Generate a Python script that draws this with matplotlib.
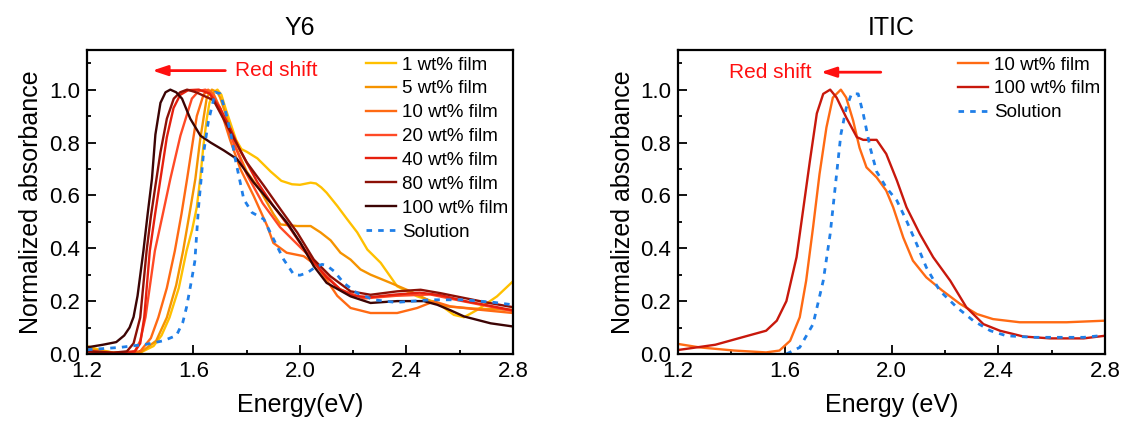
import matplotlib
matplotlib.use('Agg')
import matplotlib.pyplot as plt
from matplotlib.ticker import MultipleLocator

plt.rcParams['font.family'] = ['Liberation Sans', 'DejaVu Sans']

# ---- Y6 data (energy in eV, normalized absorbance) ----
y6_labels = ['1 wt% film', '5 wt% film', '10 wt% film', '20 wt% film',
             '40 wt% film', '80 wt% film', '100 wt% film']
y6_colors = ['#ffc000', '#f59300', '#ff6a13', '#ff4a26', '#e6200e', '#8c1006', '#3c0404']

e_1 = [1.20, 1.25, 1.30, 1.40, 1.45, 1.48, 1.51, 1.545, 1.574, 1.595, 1.6125, 1.626, 1.6375,
       1.65, 1.66, 1.675, 1.69, 1.705, 1.72, 1.74, 1.76, 1.78, 1.80, 1.84, 1.89, 1.93, 1.97,
       2.00, 2.04, 2.06, 2.08, 2.10, 2.14, 2.177, 2.215, 2.253, 2.303, 2.365, 2.44, 2.516,
       2.578, 2.616, 2.666, 2.74, 2.80]
a_1 = [0.03, 0.015, 0.005, 0.005, 0.03, 0.07, 0.138, 0.25, 0.39, 0.47, 0.555, 0.67, 0.79,
       0.89, 0.95, 0.99, 1.0, 0.98, 0.93, 0.87, 0.81, 0.775, 0.765, 0.74, 0.69, 0.655, 0.642,
       0.64, 0.648, 0.645, 0.63, 0.61, 0.56, 0.51, 0.46, 0.395, 0.345, 0.256, 0.218, 0.193,
       0.148, 0.139, 0.167, 0.218, 0.275]

e_5 = [1.20, 1.30, 1.40, 1.46, 1.50, 1.535, 1.561, 1.585, 1.607, 1.625, 1.65, 1.669, 1.69,
       1.70, 1.725, 1.76, 1.80, 1.85, 1.90, 1.927, 1.99, 2.04, 2.077, 2.115, 2.152, 2.19,
       2.227, 2.265, 2.34, 2.415, 2.49, 2.55, 2.65, 2.80]
a_5 = [0.02, 0.005, 0.005, 0.05, 0.138, 0.26, 0.39, 0.53, 0.662, 0.81, 0.97, 1.0, 0.99,
       0.97, 0.895, 0.78, 0.69, 0.62, 0.53, 0.49, 0.484, 0.484, 0.46, 0.43, 0.383, 0.357,
       0.32, 0.30, 0.269, 0.237, 0.20, 0.18, 0.172, 0.167]

e_10 = [1.20, 1.30, 1.40, 1.44, 1.468, 1.50, 1.53, 1.555, 1.576, 1.60, 1.6125, 1.6375, 1.655,
        1.675, 1.70, 1.7375, 1.776, 1.826, 1.877, 1.90, 1.95, 2.014, 2.065, 2.10, 2.14, 2.19,
        2.265, 2.365, 2.44, 2.503, 2.565, 2.678, 2.80]
a_10 = [0.015, 0.003, 0.01, 0.06, 0.138, 0.25, 0.39, 0.53, 0.662, 0.82, 0.90, 0.98, 1.0,
        0.985, 0.93, 0.81, 0.70, 0.598, 0.484, 0.42, 0.383, 0.37, 0.332, 0.28, 0.22, 0.174,
        0.155, 0.155, 0.174, 0.199, 0.18, 0.167, 0.155]

e_20 = [1.20, 1.35, 1.38, 1.40, 1.42, 1.455, 1.485, 1.513, 1.551, 1.594, 1.62, 1.645, 1.67,
        1.70, 1.75, 1.80, 1.86, 1.925, 1.975, 2.025, 2.075, 2.15, 2.24, 2.36, 2.49, 2.61, 2.80]
a_20 = [0.01, 0.002, 0.01, 0.05, 0.14, 0.39, 0.53, 0.662, 0.826, 0.966, 0.995, 1.0, 0.98,
        0.93, 0.80, 0.68, 0.57, 0.48, 0.43, 0.38, 0.32, 0.245, 0.21, 0.22, 0.225, 0.20, 0.162]

e_40 = [1.20, 1.30, 1.38, 1.40, 1.415, 1.436, 1.456, 1.476, 1.50, 1.525, 1.55, 1.58, 1.62,
        1.66, 1.70, 1.74, 1.775, 1.84, 1.90, 1.96, 2.00, 2.05, 2.10, 2.15, 2.20, 2.265, 2.36,
        2.45, 2.53, 2.62, 2.70, 2.80]
a_40 = [0.01, 0.003, 0.01, 0.04, 0.138, 0.39, 0.53, 0.662, 0.82, 0.93, 0.98, 0.998, 1.0,
        0.985, 0.93, 0.85, 0.77, 0.65, 0.56, 0.48, 0.42, 0.35, 0.29, 0.245, 0.22, 0.215, 0.225,
        0.232, 0.222, 0.20, 0.185, 0.165]

e_80 = [1.20, 1.30, 1.35, 1.375, 1.40, 1.424, 1.44, 1.457, 1.476, 1.50, 1.526, 1.55, 1.576,
        1.61, 1.675, 1.739, 1.80, 1.864, 1.927, 1.99, 2.052, 2.114, 2.165, 2.19, 2.265, 2.365,
        2.453, 2.528, 2.616, 2.70, 2.80]
a_80 = [0.01, 0.005, 0.01, 0.04, 0.138, 0.39, 0.52, 0.636, 0.763, 0.89, 0.966, 0.99, 1.0,
        0.99, 0.96, 0.84, 0.725, 0.637, 0.547, 0.459, 0.357, 0.294, 0.256, 0.237, 0.224, 0.237,
        0.243, 0.23, 0.212, 0.195, 0.177]

e_100 = [1.20, 1.26, 1.31, 1.34, 1.36, 1.375, 1.39, 1.412, 1.428, 1.444, 1.457, 1.476, 1.495,
         1.513, 1.535, 1.557, 1.588, 1.626, 1.664, 1.714, 1.764, 1.826, 1.889, 1.951, 2.002,
         2.052, 2.10, 2.19, 2.265, 2.365, 2.465, 2.516, 2.566, 2.616, 2.716, 2.80]
a_100 = [0.025, 0.035, 0.045, 0.07, 0.10, 0.14, 0.22, 0.39, 0.53, 0.662, 0.83, 0.95, 0.99,
         1.0, 0.99, 0.966, 0.89, 0.826, 0.80, 0.77, 0.737, 0.649, 0.573, 0.497, 0.42, 0.332,
         0.269, 0.218, 0.193, 0.20, 0.20, 0.186, 0.165, 0.142, 0.116, 0.104]

e_sol = [1.20, 1.325, 1.424, 1.487, 1.536, 1.56, 1.574, 1.593, 1.605, 1.619, 1.6375, 1.656,
         1.682, 1.70, 1.72, 1.739, 1.757, 1.789, 1.82, 1.864, 1.895, 1.939, 1.977, 2.0, 2.027,
         2.06, 2.083, 2.10, 2.128, 2.165, 2.215, 2.278, 2.36, 2.49, 2.616, 2.73, 2.80]
a_sol = [0.016, 0.025, 0.037, 0.05, 0.07, 0.12, 0.177, 0.28, 0.35, 0.555, 0.757, 0.88,
         0.99, 0.985, 0.92, 0.84, 0.737, 0.585, 0.535, 0.51, 0.446, 0.357, 0.30, 0.298, 0.307,
         0.33, 0.339, 0.335, 0.313, 0.268, 0.23, 0.205, 0.195, 0.205, 0.205, 0.195, 0.186]

y6_e = [e_1, e_5, e_10, e_20, e_40, e_80, e_100]
y6_a = [a_1, a_5, a_10, a_20, a_40, a_80, a_100]

# ---- ITIC data ----
itic_e_10 = [1.20, 1.28, 1.41, 1.53, 1.58, 1.62, 1.656, 1.68, 1.706, 1.73, 1.756, 1.78, 1.81,
             1.83, 1.856, 1.88, 1.906, 1.944, 1.98, 2.006, 2.044, 2.08, 2.13, 2.19, 2.256, 2.32,
             2.38, 2.48, 2.656, 2.80]
itic_a_10 = [0.038, 0.025, 0.013, 0.006, 0.013, 0.05, 0.139, 0.277, 0.48, 0.68, 0.857, 0.97,
             1.0, 0.97, 0.883, 0.78, 0.706, 0.668, 0.618, 0.555, 0.44, 0.353, 0.29, 0.24, 0.19,
             0.151, 0.132, 0.12, 0.12, 0.126]

itic_e_100 = [1.20, 1.34, 1.44, 1.53, 1.57, 1.606, 1.644, 1.67, 1.694, 1.72, 1.744, 1.77,
              1.794, 1.83, 1.87, 1.894, 1.944, 1.98, 2.02, 2.056, 2.106, 2.156, 2.22, 2.28,
              2.344, 2.406, 2.494, 2.594, 2.72, 2.80]
itic_a_100 = [0.015, 0.035, 0.063, 0.088, 0.126, 0.20, 0.366, 0.555, 0.73, 0.91, 0.984, 1.0,
              0.97, 0.895, 0.82, 0.81, 0.81, 0.757, 0.656, 0.555, 0.454, 0.366, 0.277, 0.177,
              0.113, 0.088, 0.066, 0.059, 0.059, 0.069]

itic_e_sol = [1.606, 1.656, 1.706, 1.744, 1.77, 1.794, 1.81, 1.83, 1.85, 1.875, 1.894, 1.92,
              1.944, 1.98, 2.02, 2.056, 2.094, 2.13, 2.18, 2.244, 2.306, 2.37, 2.43, 2.53, 2.72,
              2.78]
itic_a_sol = [0.0, 0.025, 0.113, 0.277, 0.454, 0.68, 0.83, 0.93, 0.984, 0.984, 0.908, 0.78,
              0.69, 0.63, 0.58, 0.504, 0.416, 0.328, 0.24, 0.177, 0.126, 0.088, 0.069, 0.063,
              0.063, 0.069]

sol_color = '#1f7fe8'
red = '#ff1010'


def style_axes(ax, title):
    ax.set_xlim(1.2, 2.8)
    ax.set_ylim(0, 1.15)
    ax.xaxis.set_major_locator(MultipleLocator(0.4))
    ax.xaxis.set_minor_locator(MultipleLocator(0.2))
    ax.yaxis.set_major_locator(MultipleLocator(0.2))
    ax.yaxis.set_minor_locator(MultipleLocator(0.1))
    ax.tick_params(which='both', direction='in', top=False, right=False,
                   labelsize=16, width=1.3, pad=5)
    ax.tick_params(which='major', length=6.5)
    ax.tick_params(which='minor', length=3)
    for s in ax.spines.values():
        s.set_linewidth(1.6)
    ax.set_ylabel('Normalized absorbance', fontsize=18, labelpad=4)
    ax.set_title(title, fontsize=18, pad=11)


fig = plt.figure(figsize=(11.25, 4.32), dpi=100)
ax1 = fig.add_axes([0.0773, 0.1806, 0.3787, 0.7037])
ax2 = fig.add_axes([0.6027, 0.1806, 0.3796, 0.7037])

leg_kw = dict(loc='upper right', bbox_to_anchor=(1.02, 1.022), frameon=False, fontsize=13.5,
              handlelength=1.6, handletextpad=0.35, labelspacing=0.36, borderaxespad=0.3)

# Y6 panel
for e, a, lab, c in zip(y6_e, y6_a, y6_labels, y6_colors):
    ax1.plot(e, a, color=c, lw=1.7, label=lab)
ax1.plot(e_sol, a_sol, color=sol_color, lw=2, ls=(0, (2, 2.2)), label='Solution')
style_axes(ax1, 'Y6')
ax1.set_xlabel('Energy(eV)', fontsize=18, labelpad=8)
ax1.legend(**leg_kw)
ax1.annotate('', xy=(1.435, 1.072), xytext=(1.73, 1.072),
             arrowprops=dict(arrowstyle='-|>,head_length=0.9,head_width=0.3', color=red, lw=2))
ax1.text(1.757, 1.072, 'Red shift', color=red, fontsize=15, va='center', ha='left')

# ITIC panel
ax2.plot(itic_e_10, itic_a_10, color='#ff6a13', lw=1.7, label='10 wt% film')
ax2.plot(itic_e_100, itic_a_100, color='#c8180c', lw=1.7, label='100 wt% film')
ax2.plot(itic_e_sol, itic_a_sol, color=sol_color, lw=2, ls=(0, (2, 2.2)), label='Solution')
style_axes(ax2, 'ITIC')
ax2.set_xlabel('Energy (eV)', fontsize=18, labelpad=8)
ax2.legend(**leg_kw)
ax2.annotate('', xy=(1.725, 1.066), xytext=(1.97, 1.066),
             arrowprops=dict(arrowstyle='-|>,head_length=0.9,head_width=0.3', color=red, lw=2))
ax2.text(1.7, 1.066, 'Red shift', color=red, fontsize=15, va='center', ha='right')

fig.savefig('out.png', dpi=100)
